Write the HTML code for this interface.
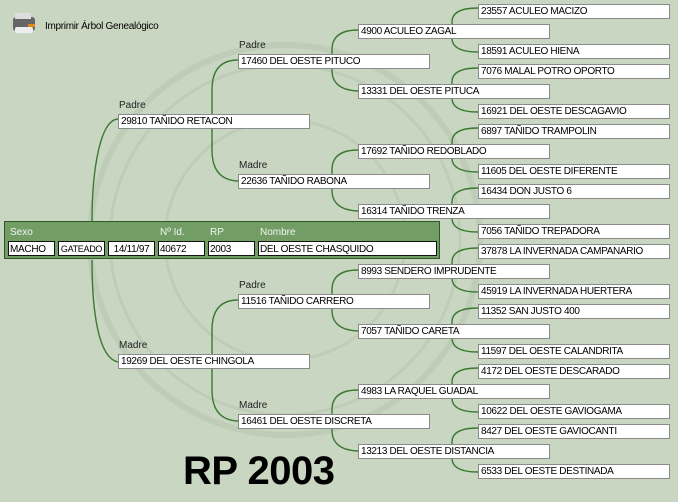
<!DOCTYPE html>
<html><head><meta charset="utf-8">
<style>
html,body{margin:0;padding:0}
body{width:678px;height:502px;position:relative;overflow:hidden;background:#c9d6c1;font-family:"Liberation Sans",sans-serif;}
.b{position:absolute;width:188px;height:13px;background:#fff;border:1px solid #8a8a8a;font-size:10px;letter-spacing:-0.35px;line-height:14px;padding-left:2px;box-sizing:content-box;white-space:nowrap;color:#000;}
.l{position:absolute;font-size:10px;color:#222;}
svg{position:absolute;left:0;top:0}
.panel{position:absolute;left:4px;top:221px;width:434px;height:36px;background:#729e66;border:1px solid #2f5a28;}
.pl{position:absolute;top:5px;font-size:10px;color:#f2f5ee;}
.f{position:absolute;top:19px;height:15px;background:#fff;border:1px solid #111;font-size:10px;letter-spacing:-0.3px;line-height:15px;padding-left:1px;box-sizing:border-box;white-space:nowrap;overflow:hidden;}
</style></head><body>
<svg width="678" height="502" fill="none">
<g stroke="#bfccb7">
<circle cx="285" cy="240" r="195" stroke-width="6"/>
<circle cx="285" cy="240" r="175" stroke-width="3"/>
<circle cx="285" cy="240" r="120" stroke-width="3"/>
</g>
<g stroke="#3b7a33" stroke-width="1.4">
<path d="M118,119 C100,120 92,170 92,222"/>
<path d="M92,260 C92,310 98,358 118,362"/>
<path d="M238,60 Q212,60 212,90 L212,150 Q212,180 238,181"/>
<path d="M238,300 Q212,300 212,330 L212,390 Q212,420 238,421"/>
<path d="M358,30 Q332,30 332,50 L332,70 Q332,90 358,91"/>
<path d="M358,150 Q332,150 332,170 L332,190 Q332,210 358,211"/>
<path d="M358,270 Q332,270 332,290 L332,310 Q332,330 358,331"/>
<path d="M358,390 Q332,390 332,410 L332,430 Q332,450 358,451"/>
<path d="M478,8 Q452,8 452,22 L452,38 Q452,52 478,52"/>
<path d="M478,68 Q452,68 452,82 L452,98 Q452,112 478,112"/>
<path d="M478,128 Q452,128 452,142 L452,158 Q452,172 478,172"/>
<path d="M478,188 Q452,188 452,202 L452,218 Q452,232 478,232"/>
<path d="M478,248 Q452,248 452,262 L452,278 Q452,292 478,292"/>
<path d="M478,308 Q452,308 452,322 L452,338 Q452,352 478,352"/>
<path d="M478,368 Q452,368 452,382 L452,398 Q452,412 478,412"/>
<path d="M478,428 Q452,428 452,442 L452,458 Q452,472 478,472"/>
</g>
</svg>

<div style="position:absolute;left:13px;top:17px;width:22px;height:14px;background:#666;border-radius:3px;"></div>
<div style="position:absolute;left:15px;top:13px;width:16px;height:6px;background:#ddd;"></div>
<div style="position:absolute;left:15px;top:27px;width:18px;height:6px;background:#eee;border-radius:2px;"></div>
<div style="position:absolute;left:28px;top:24px;width:7px;height:3px;background:#e08a20;"></div>
<div class="l" style="left:45px;top:21px;color:#000;letter-spacing:-0.3px">Imprimir Árbol Genealógico</div>

<div class="l" style="left:119px;top:100px">Padre</div>
<div class="b" style="left:118px;top:114px">29810 TAÑIDO RETACON</div>
<div class="l" style="left:119px;top:340px">Madre</div>
<div class="b" style="left:118px;top:354px">19269 DEL OESTE CHINGOLA</div>

<div class="l" style="left:239px;top:40px">Padre</div>
<div class="b" style="left:238px;top:54px">17460 DEL OESTE PITUCO</div>
<div class="l" style="left:239px;top:160px">Madre</div>
<div class="b" style="left:238px;top:174px">22636 TAÑIDO RABONA</div>
<div class="l" style="left:239px;top:280px">Padre</div>
<div class="b" style="left:238px;top:294px">11516 TAÑIDO CARRERO</div>
<div class="l" style="left:239px;top:400px">Madre</div>
<div class="b" style="left:238px;top:414px">16461 DEL OESTE DISCRETA</div>

<div class="b" style="left:358px;top:24px">4900 ACULEO ZAGAL</div>
<div class="b" style="left:358px;top:84px">13331 DEL OESTE PITUCA</div>
<div class="b" style="left:358px;top:144px">17692 TAÑIDO REDOBLADO</div>
<div class="b" style="left:358px;top:204px">16314 TAÑIDO TRENZA</div>
<div class="b" style="left:358px;top:264px">8993 SENDERO IMPRUDENTE</div>
<div class="b" style="left:358px;top:324px">7057 TAÑIDO CARETA</div>
<div class="b" style="left:358px;top:384px">4983 LA RAQUEL GUADAL</div>
<div class="b" style="left:358px;top:444px">13213 DEL OESTE DISTANCIA</div>

<div class="b" style="left:478px;top:4px">23557 ACULEO MACIZO</div>
<div class="b" style="left:478px;top:44px">18591 ACULEO HIENA</div>
<div class="b" style="left:478px;top:64px">7076 MALAL POTRO OPORTO</div>
<div class="b" style="left:478px;top:104px">16921 DEL OESTE DESCAGAVIO</div>
<div class="b" style="left:478px;top:124px">6897 TAÑIDO TRAMPOLIN</div>
<div class="b" style="left:478px;top:164px">11605 DEL OESTE DIFERENTE</div>
<div class="b" style="left:478px;top:184px">16434 DON JUSTO 6</div>
<div class="b" style="left:478px;top:224px">7056 TAÑIDO TREPADORA</div>
<div class="b" style="left:478px;top:244px">37878 LA INVERNADA CAMPANARIO</div>
<div class="b" style="left:478px;top:284px">45919 LA INVERNADA HUERTERA</div>
<div class="b" style="left:478px;top:304px">11352 SAN JUSTO 400</div>
<div class="b" style="left:478px;top:344px">11597 DEL OESTE CALANDRITA</div>
<div class="b" style="left:478px;top:364px">4172 DEL OESTE DESCARADO</div>
<div class="b" style="left:478px;top:404px">10622 DEL OESTE GAVIOGAMA</div>
<div class="b" style="left:478px;top:424px">8427 DEL OESTE GAVIOCANTI</div>
<div class="b" style="left:478px;top:464px">6533 DEL OESTE DESTINADA</div>

<div class="panel">
<div class="pl" style="left:5px">Sexo</div>
<div class="pl" style="left:155px">Nº Id.</div>
<div class="pl" style="left:205px">RP</div>
<div class="pl" style="left:255px">Nombre</div>
<div class="f" style="left:3px;width:47px">MACHO</div>
<div class="f" style="left:53px;width:47px;text-align:center;padding:0;font-size:9px">GATEADO</div>
<div class="f" style="left:103px;width:47px;text-align:center;padding:0">14/11/97</div>
<div class="f" style="left:153px;width:47px">40672</div>
<div class="f" style="left:203px;width:47px">2003</div>
<div class="f" style="left:253px;width:179px">DEL OESTE CHASQUIDO</div>
</div>

<div style="position:absolute;left:183px;top:448px;font-size:40px;font-weight:bold;color:#000;line-height:46px;white-space:nowrap;letter-spacing:-0.5px;">RP 2003</div>
</body></html>
